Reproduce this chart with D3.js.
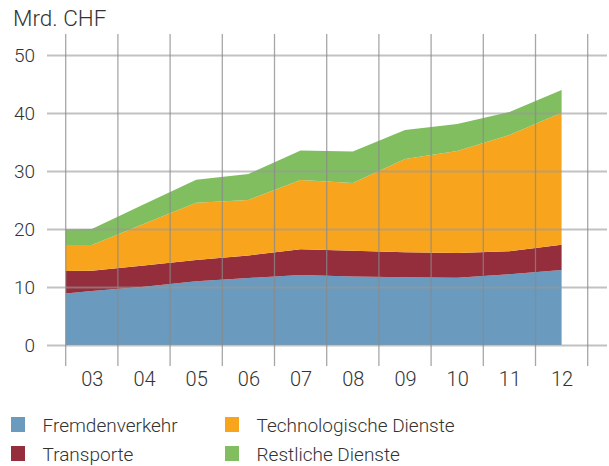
<!DOCTYPE html>
<html>
<head>
<meta charset="utf-8">
<script src="https://cdnjs.cloudflare.com/ajax/libs/d3/7.8.5/d3.min.js"></script>
<style>
  body { margin: 0; background: #fff; }
  text { font-family: Roboto, "Liberation Sans", sans-serif; font-weight: 300; fill: #333; }
</style>
</head>
<body>
<div id="chart"></div>
<script>
// data (Mrd. CHF)
var periods = [2002.5, 2003, 2004, 2005, 2006, 2007, 2008, 2009, 2010, 2011, 2012];
var yearLabels = ["03", "04", "05", "06", "07", "08", "09", "10", "11", "12"];
var yTicks = [0, 10, 20, 30, 40, 50];

var fremdenverkehr = [8.9, 9.3, 10.05, 11.0, 11.55, 12.07, 11.8, 11.7, 11.6, 12.2, 12.93];
var transporte = [3.86, 3.5, 3.65, 3.65, 3.9, 4.43, 4.45, 4.27, 4.26, 3.95, 4.37];
var technologische = [4.48, 4.44, 7.2, 9.89, 9.55, 11.95, 11.68, 16.1, 17.59, 20.05, 22.75];
var restliche = [2.71, 2.76, 3.35, 3.96, 4.5, 5.1, 5.42, 5.0, 4.65, 3.97, 3.92];

var seriesNames = ["Fremdenverkehr", "Transporte", "Technologische Dienste", "Restliche Dienste"];
var seriesColors = ["#6a9abe", "#942d3c", "#f8a51d", "#80be60"];

var width = 609;
var height = 466;

var svg = d3.select('#chart')
    .append('svg')
    .attr('width', width)
    .attr('height', height);

// build table for d3.stack
var table = periods.map(function (p, i) {
    return {
        period: p,
        "Fremdenverkehr": fremdenverkehr[i],
        "Transporte": transporte[i],
        "Technologische Dienste": technologische[i],
        "Restliche Dienste": restliche[i]
    };
});

var x = d3.scaleLinear()
    .domain([2002.5, 2012.5])
    .range([65.7, 587.7]);
var y = d3.scaleLinear()
    .domain([0, 50])
    .range([345, 55]);

var stacked = d3.stack().keys(seriesNames)(table);

var area = d3.area()
    .x(d => x(d.data.period))
    .y0(d => y(d[0]))
    .y1(d => y(d[1]));

svg.append('g').selectAll('path')
    .data(stacked)
    .enter()
    .append('path')
    .attr('d', area)
    .attr('fill', (d, i) => seriesColors[i]);

// horizontal grid + y labels (drawn over the areas)
var yAxis = d3.axisLeft(y)
    .tickValues(yTicks)
    .tickSize(-(607 - 47))
    .tickPadding(12);

var gY = svg.append('g')
    .attr('transform', 'translate(47,0)')
    .call(yAxis);
gY.select('.domain').remove();
gY.selectAll('line')
    .attr('stroke', '#999')
    .attr('stroke-opacity', 0.6)
    .attr('stroke-width', 2);
gY.selectAll('text')
    .attr('font-size', 19)
    .attr('font-family', 'Roboto, "Liberation Sans", sans-serif')
    .attr('font-weight', 300)
    .attr('fill', '#333');

// vertical grid at year boundaries
var bounds = d3.range(2002.5, 2013, 1);
svg.append('g').selectAll('line')
    .data(bounds)
    .enter()
    .append('line')
    .attr('x1', d => x(d))
    .attr('x2', d => x(d))
    .attr('y1', 34)
    .attr('y2', 366)
    .attr('stroke', '#8a8a8a')
    .attr('stroke-opacity', 0.75)
    .attr('stroke-width', 1.3);

// year labels
var xAxis = d3.axisBottom(x)
    .tickValues(d3.range(2003, 2013))
    .tickFormat((d, i) => yearLabels[i])
    .tickSize(0)
    .tickPadding(0);

var gX = svg.append('g')
    .attr('transform', 'translate(0,372)')
    .call(xAxis);
gX.select('.domain').remove();
gX.selectAll('text')
    .attr('font-size', 20)
    .attr('font-family', 'Roboto, "Liberation Sans", sans-serif')
    .attr('font-weight', 300)
    .attr('fill', '#333');

// unit label
svg.append('text')
    .attr('x', 13)
    .attr('y', 26)
    .attr('font-size', 22.5)
    .text('Mrd. CHF');

// legend
var legendPos = [[11, 417], [11, 446], [225, 417], [225, 446]];
var order = [0, 1, 2, 3];
var lg = svg.append('g').selectAll('g')
    .data(order)
    .enter()
    .append('g')
    .attr('transform', d => 'translate(' + legendPos[d][0] + ',' + legendPos[d][1] + ')');
lg.append('rect')
    .attr('width', 14)
    .attr('height', 15)
    .attr('fill', d => seriesColors[d]);
lg.append('text')
    .attr('x', 31.5)
    .attr('y', 14.5)
    .attr('font-size', 19)
    .text(d => seriesNames[d]);
</script>
</body>
</html>
